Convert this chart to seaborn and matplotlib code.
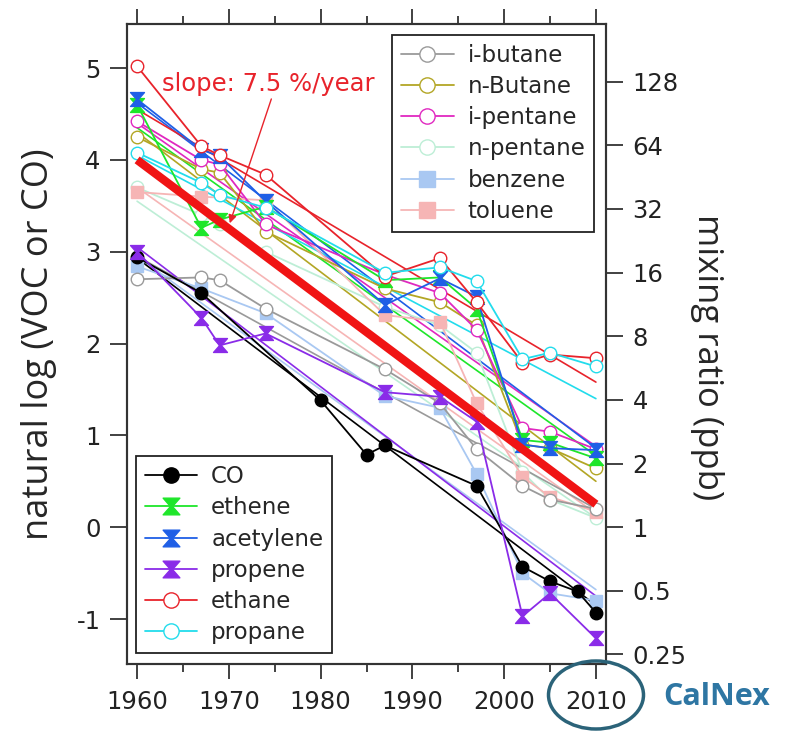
import numpy as np
import pandas as pd
import matplotlib
matplotlib.use("Agg")
import matplotlib.pyplot as plt
from matplotlib.path import Path
from matplotlib.lines import Line2D
from matplotlib.patches import Ellipse
from matplotlib.ticker import MultipleLocator
import seaborn as sns

# ---------------- data (natural log of mixing ratio) ----------------
years_voc = [1960, 1967, 1969, 1974, 1987, 1993, 1997, 2002, 2005, 2010]
years_arom = [1960, 1967, 1974, 1987, 1993, 1997, 2002, 2005, 2010]
years_co = [1960, 1967, 1980, 1985, 1987, 1997, 2002, 2005, 2008, 2010]

co = [2.94, 2.55, 1.38, 0.79, 0.89, 0.45, -0.43, -0.59, -0.70, -0.93]
ethene = [4.60, 3.26, 3.35, 3.49, 2.69, 2.72, 2.38, 0.95, 0.92, 0.75]
acetylene = [4.66, 4.11, 4.04, 3.55, 2.42, 2.71, 2.51, 0.90, 0.86, 0.84]
propene = [3.00, 2.28, 1.98, 2.11, 1.47, 1.42, 1.15, -0.97, -0.72, -1.21]
ethane = [5.02, 4.15, 4.05, 3.84, 2.73, 2.93, 2.45, 1.79, 1.88, 1.84]
propane = [4.08, 3.75, 3.62, 3.48, 2.77, 2.83, 2.68, 1.83, 1.90, 1.75]

i_butane = [2.70, 2.72, 2.69, 2.38, 1.72, 1.35, 0.85, 0.45, 0.30, 0.20]
n_butane = [4.25, 3.90, 3.86, 3.22, 2.60, 2.45, 2.20, 0.90, 0.86, 0.64]
i_pentane = [4.42, 4.00, 3.95, 3.30, 2.75, 2.55, 2.15, 1.08, 1.04, 0.85]
n_pentane = [3.70, 3.40, 3.30, 3.00, 2.40, 2.20, 1.90, 0.60, 0.30, 0.10]
benzene = [2.84, 2.60, 2.33, 1.43, 1.30, 0.58, -0.50, -0.72, -0.80]
toluene = [3.65, 3.60, 3.56, 2.31, 2.24, 1.35, 0.55, 0.33, 0.17]

# straight-line fits: values at 1960 and 2010
fit_years = [1960, 2010]
fit_co = [2.93, -0.85]
fit_ethene = [4.35, 0.78]
fit_acetylene = [4.62, 0.86]
fit_propene = [3.05, -0.75]
fit_ethane = [4.55, 1.58]
fit_propane = [4.05, 1.40]
fit_i_butane = [2.95, 0.20]
fit_n_butane = [4.30, 0.50]
fit_i_pentane = [4.40, 0.88]
fit_n_pentane = [3.55, 0.10]
fit_benzene = [2.95, -0.68]
fit_toluene = [3.70, 0.15]
mean_trend = [4.00, 0.25]

ratio_ticks = [128, 64, 32, 16, 8, 4, 2, 1, 0.5, 0.25]
ratio_labels = ["128", "64", "32", "16", "8", "4", "2", "1", "0.5", "0.25"]
x_ticks = [1960, 1970, 1980, 1990, 2000, 2010]
y_ticks = [-1, 0, 1, 2, 3, 4, 5]

# ---------------- styling ----------------
sns.set_style("ticks")
plt.rcParams["font.family"] = ["DejaVu Sans"]
plt.rcParams["axes.unicode_minus"] = False

hourglass = Path([(-1, 1), (1, 1), (0.12, 0), (1, -1), (-1, -1), (-0.12, 0), (-1, 1)],
                 [Path.MOVETO] + [Path.LINETO] * 5 + [Path.CLOSEPOLY])

# name, years, values, fit, color, marker, face, markersize
species_a = [
    ("CO", years_co, co, fit_co, "#000000", "o", "#000000", 9),
    ("ethene", years_voc, ethene, fit_ethene, "#1ee62a", hourglass, "#1ee62a", 10),
    ("acetylene", years_voc, acetylene, fit_acetylene, "#1f5fe6", hourglass, "#1f5fe6", 10),
    ("propene", years_voc, propene, fit_propene, "#8a2be8", hourglass, "#8a2be8", 10),
    ("ethane", years_voc, ethane, fit_ethane, "#e8232b", "o", "white", 9),
    ("propane", years_voc, propane, fit_propane, "#22dcec", "o", "white", 9),
]
species_b = [
    ("i-butane", years_voc, i_butane, fit_i_butane, "#9a9a9a", "o", "white", 9),
    ("n-Butane", years_voc, n_butane, fit_n_butane, "#b3a625", "o", "white", 9),
    ("i-pentane", years_voc, i_pentane, fit_i_pentane, "#e028c0", "o", "white", 9),
    ("n-pentane", years_voc, n_pentane, fit_n_pentane, "#bdeed6", "o", "white", 9),
    ("benzene", years_arom, benzene, fit_benzene, "#a9c8f2", "s", "#a9c8f2", 9),
    ("toluene", years_arom, toluene, fit_toluene, "#f6b5b5", "s", "#f6b5b5", 9),
]

fig = plt.figure(figsize=(7.89, 7.31), dpi=100)
ax = fig.add_axes([127 / 789, 1 - 664 / 731, (606 - 127) / 789, (664 - 24) / 731])

# pale species first, strong species on top
draw_order = species_b[3:] + species_b[:3] + species_a
for name, yrs, vals, fit, col, mk, face, ms in draw_order:
    sns.lineplot(x=fit_years, y=fit, ax=ax, color=col, lw=1.2, zorder=2)
    df = pd.DataFrame({"year": yrs, "val": vals})
    sns.lineplot(data=df, x="year", y="val", ax=ax, color=col, lw=1.3,
                 marker=mk, markersize=ms, markerfacecolor=face, markeredgecolor=col,
                 markeredgewidth=1.0, sort=False, estimator=None, zorder=3)

# average trend
sns.lineplot(x=fit_years, y=mean_trend, ax=ax, color="#f01414", lw=6,
             solid_capstyle="butt", zorder=4)

ax.annotate("slope: 7.5 %/year", xy=(1970.1, 3.31), xytext=(1962.7, 4.83),
            color="#e8232b", fontsize=17.5, va="center", ha="left",
            arrowprops=dict(arrowstyle="-|>", color="#e8232b", lw=1.0,
                            shrinkA=0, shrinkB=0, mutation_scale=12,
                            relpos=(0.52, 0.0)), zorder=6)

ax.set_xlim(1958.9, 2011.1)
ax.set_ylim(-1.49, 5.48)
ax.set_xticks(x_ticks)
ax.xaxis.set_minor_locator(MultipleLocator(5))
ax.set_yticks(y_ticks)
ax.set_xlabel("")
ax.set_ylabel("natural log (VOC or CO)", fontsize=26, family="Open Sans", labelpad=14)
ax.tick_params(axis="x", which="major", length=11, width=1.3, labelsize=17.5, top=True,
               direction="out", pad=8, color="#333333", labelcolor="#222222")
ax.tick_params(axis="x", which="minor", length=6, width=1.3, top=True,
               direction="out", color="#333333")
ax.tick_params(axis="y", which="major", length=12, width=1.3, labelsize=17.5,
               direction="out", pad=7, color="#333333", labelcolor="#222222")
for sp in ax.spines.values():
    sp.set_visible(True)
    sp.set_linewidth(1.5)
    sp.set_color("#333333")

ax2 = ax.twinx()
ax2.set_ylim(ax.get_ylim())
ax2.set_yticks(np.log(ratio_ticks))
ax2.set_yticklabels(ratio_labels)
ax2.tick_params(axis="y", length=12, width=1.3, labelsize=17.5, direction="out", pad=7,
                color="#333333", labelcolor="#222222")
ax2.set_ylabel("mixing ratio (ppb)", fontsize=25, family="Open Sans", rotation=270,
               va="center", ha="center")
ax2.yaxis.set_label_coords(1.21, 0.48)
for sp in ax2.spines.values():
    sp.set_linewidth(1.5)
    sp.set_color("#333333")


def handles(group):
    out = []
    for name, yrs, vals, fit, col, mk, face, ms in group:
        out.append(Line2D([], [], color=col, lw=1.3, marker=mk, markersize=ms + 2,
                          markerfacecolor=face, markeredgecolor=col, label=name))
    return out


leg_kw = dict(fontsize=16.5, frameon=True, fancybox=False, edgecolor="#222222",
              framealpha=1, handlelength=2.3, handletextpad=0.6, labelspacing=0.36,
              borderpad=0.38, borderaxespad=0)
leg1 = ax2.legend(handles=handles(species_a), loc="lower left",
                  bbox_to_anchor=(9 / 479, 11 / 640), **leg_kw)
leg1.get_frame().set_linewidth(1.3)
leg2 = ax2.legend(handles=handles(species_b), loc="upper right",
                  bbox_to_anchor=(1 - 12 / 479, 1 - 11 / 640), **leg_kw)
leg2.get_frame().set_linewidth(1.3)
ax2.add_artist(leg1)

# CalNex campaign marker
fig.patches.append(Ellipse((596 / 789, 1 - 695 / 731), 95 / 789, 68 / 731,
                           transform=fig.transFigure, fill=False,
                           edgecolor="#2b6379", lw=2.5))
fig.text(717 / 789, 1 - 697 / 731, "CalNex", color="#2e76a3", fontsize=22,
         fontweight="bold", family="Open Sans", ha="center", va="center")

fig.savefig("out.png", dpi=100, facecolor="white")
